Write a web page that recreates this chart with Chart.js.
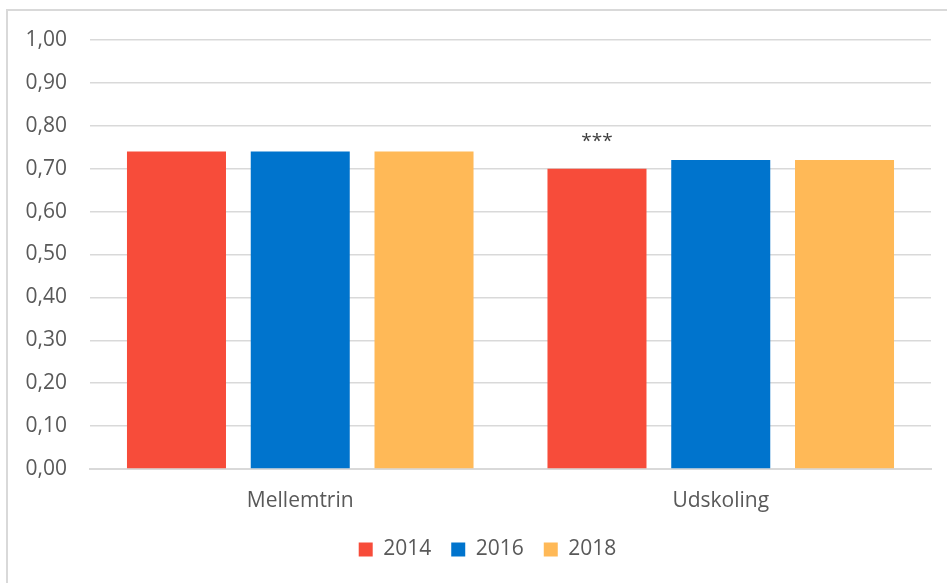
<!DOCTYPE html>
<html>
<head>
<meta charset="utf-8">
<script src="https://cdn.jsdelivr.net/npm/chart.js@4"></script>
<style>
  body { margin: 0; background: #fff; }
  #frame {
    position: absolute; left: 6px; top: 9px; width: 960px; height: 600px;
    border: 2px solid #d9d9d9; box-sizing: border-box;
  }
  #wrap { position: absolute; left: 0; top: 0; width: 947px; height: 583px; }
</style>
</head>
<body>
<div id="frame"></div>
<div id="wrap"><canvas id="chart"></canvas></div>
<script>
const categories = ['Mellemtrin', 'Udskoling'];
const years = ['2014', '2016', '2018'];
const values2014 = [0.74, 0.70];
const values2016 = [0.74, 0.72];
const values2018 = [0.74, 0.72];
const marks2014 = ['', '***'];
const colors = ['#F74C3A', '#0074CD', '#FFB957'];

// Draws the significance stars above the bars
const starsPlugin = {
  id: 'stars',
  afterDatasetsDraw(chart) {
    const ctx = chart.ctx;
    const meta = chart.getDatasetMeta(0);
    ctx.save();
    ctx.font = '19px "Open Sans", sans-serif';
    ctx.fillStyle = '#404040';
    ctx.textAlign = 'center';
    ctx.textBaseline = 'middle';
    meta.data.forEach((bar, i) => {
      if (marks2014[i]) ctx.fillText(marks2014[i], bar.x, bar.y - 27);
    });
    ctx.restore();
  }
};

// Nudge the legend a bit to the right, like the original
const legendShift = {
  id: 'legendShift',
  afterLayout(chart) {
    chart.legend.left += 22;
    chart.legend.right += 22;
  }
};

const ctx = document.getElementById('chart').getContext('2d');
new Chart(ctx, {
  type: 'bar',
  data: {
    labels: categories,
    datasets: [
      { label: years[0], data: values2014, backgroundColor: colors[0] },
      { label: years[1], data: values2016, backgroundColor: colors[1] },
      { label: years[2], data: values2018, backgroundColor: colors[2] },
    ],
  },
  options: {
    responsive: true,
    maintainAspectRatio: false,
    animation: false,
    layout: { padding: { left: 0, right: 16, top: 40, bottom: 13 } },
    datasets: { bar: { categoryPercentage: 0.883, barPercentage: 0.8 } },
    scales: {
      x: {
        grid: { display: false },
        border: { color: '#d9d9d9', width: 2 },
        ticks: { color: '#595959', font: { family: 'Open Sans', size: 21 }, padding: 11 },
        afterFit(scale) { scale.height = 50; },
      },
      y: {
        min: 0,
        max: 1,
        ticks: {
          stepSize: 0.1,
          color: '#595959',
          font: { family: 'Open Sans', size: 21 },
          padding: 23,
          callback: (v) => v.toFixed(2).replace('.', ','),
        },
        grid: { color: '#d9d9d9', lineWidth: 1.5, drawTicks: false },
        border: { display: false },
        afterFit(scale) { scale.width = 90; },
      },
    },
    plugins: {
      legend: {
        position: 'bottom',
        labels: {
          boxWidth: 14,
          boxHeight: 14,
          padding: 20,
          color: '#595959',
          font: { family: 'Open Sans', size: 21 },
        },
      },
      tooltip: { enabled: false },
    },
  },
  plugins: [starsPlugin, legendShift],
});
</script>
</body>
</html>
